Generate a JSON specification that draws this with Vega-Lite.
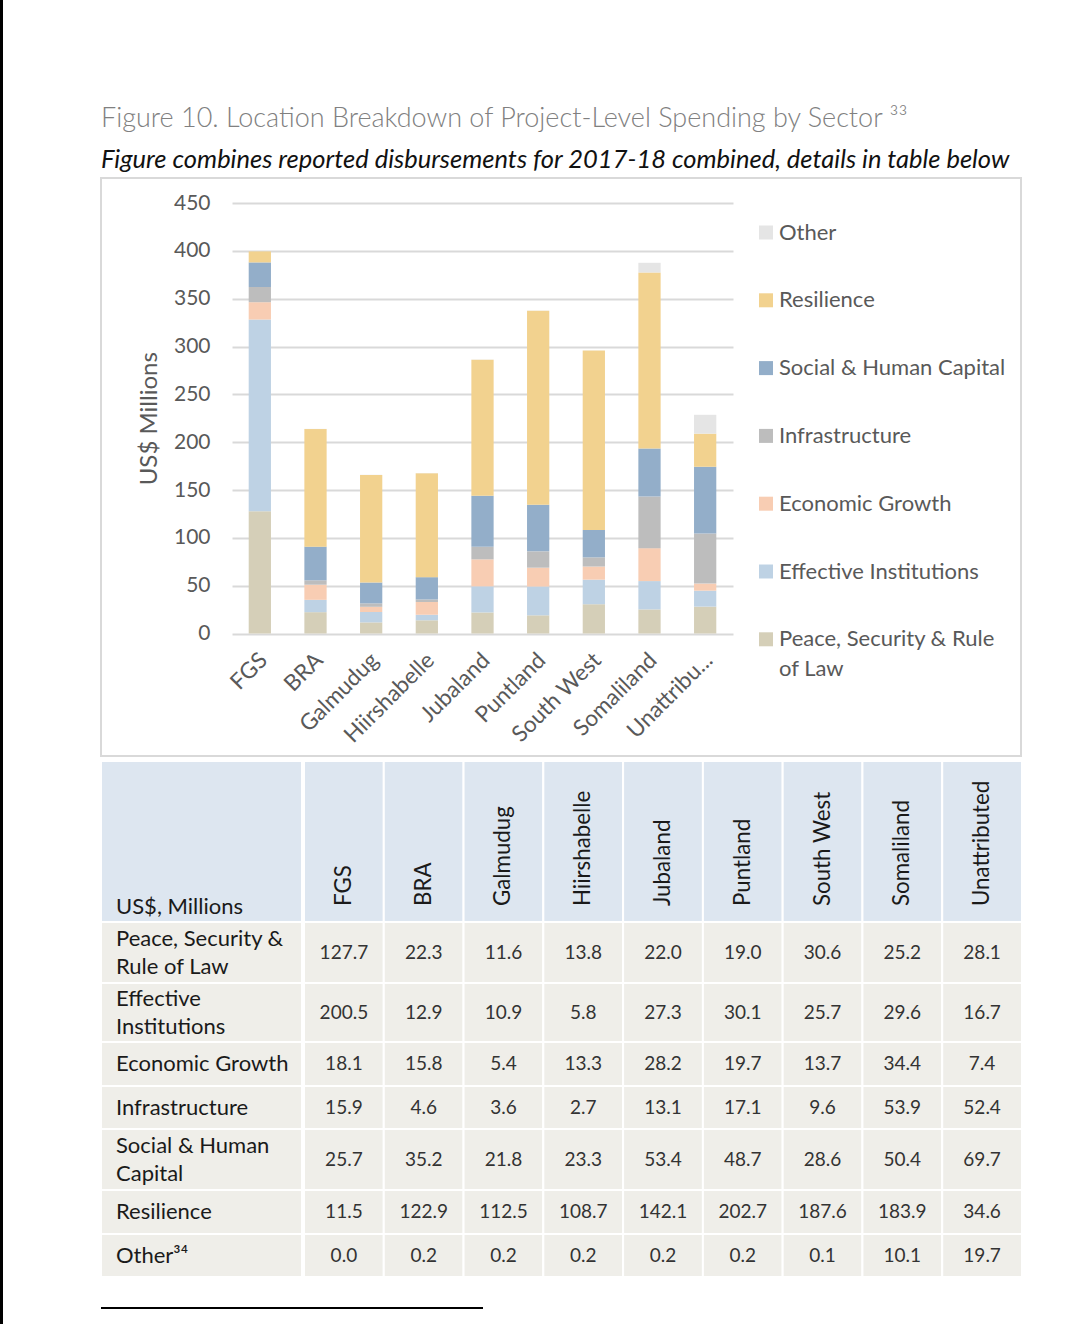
{
  "$schema": "https://vega.github.io/schema/vega-lite/v6.json",
  "padding": 0,
  "background": "white",
  "config": {"view": {"stroke": null}, "font": "Lato"},
  "datasets": {
    "d": [
      {"loc": "FGS", "sector": "Peace, Security & Rule of Law", "v": 127.7},
      {"loc": "BRA", "sector": "Peace, Security & Rule of Law", "v": 22.3},
      {"loc": "Galmudug", "sector": "Peace, Security & Rule of Law", "v": 11.6},
      {"loc": "Hiirshabelle", "sector": "Peace, Security & Rule of Law", "v": 13.8},
      {"loc": "Jubaland", "sector": "Peace, Security & Rule of Law", "v": 22.0},
      {"loc": "Puntland", "sector": "Peace, Security & Rule of Law", "v": 19.0},
      {"loc": "South West", "sector": "Peace, Security & Rule of Law", "v": 30.6},
      {"loc": "Somaliland", "sector": "Peace, Security & Rule of Law", "v": 25.2},
      {"loc": "Unattributed", "sector": "Peace, Security & Rule of Law", "v": 28.1},
      {"loc": "FGS", "sector": "Effective Institutions", "v": 200.5},
      {"loc": "BRA", "sector": "Effective Institutions", "v": 12.9},
      {"loc": "Galmudug", "sector": "Effective Institutions", "v": 10.9},
      {"loc": "Hiirshabelle", "sector": "Effective Institutions", "v": 5.8},
      {"loc": "Jubaland", "sector": "Effective Institutions", "v": 27.3},
      {"loc": "Puntland", "sector": "Effective Institutions", "v": 30.1},
      {"loc": "South West", "sector": "Effective Institutions", "v": 25.7},
      {"loc": "Somaliland", "sector": "Effective Institutions", "v": 29.6},
      {"loc": "Unattributed", "sector": "Effective Institutions", "v": 16.7},
      {"loc": "FGS", "sector": "Economic Growth", "v": 18.1},
      {"loc": "BRA", "sector": "Economic Growth", "v": 15.8},
      {"loc": "Galmudug", "sector": "Economic Growth", "v": 5.4},
      {"loc": "Hiirshabelle", "sector": "Economic Growth", "v": 13.3},
      {"loc": "Jubaland", "sector": "Economic Growth", "v": 28.2},
      {"loc": "Puntland", "sector": "Economic Growth", "v": 19.7},
      {"loc": "South West", "sector": "Economic Growth", "v": 13.7},
      {"loc": "Somaliland", "sector": "Economic Growth", "v": 34.4},
      {"loc": "Unattributed", "sector": "Economic Growth", "v": 7.4},
      {"loc": "FGS", "sector": "Infrastructure", "v": 15.9},
      {"loc": "BRA", "sector": "Infrastructure", "v": 4.6},
      {"loc": "Galmudug", "sector": "Infrastructure", "v": 3.6},
      {"loc": "Hiirshabelle", "sector": "Infrastructure", "v": 2.7},
      {"loc": "Jubaland", "sector": "Infrastructure", "v": 13.1},
      {"loc": "Puntland", "sector": "Infrastructure", "v": 17.1},
      {"loc": "South West", "sector": "Infrastructure", "v": 9.6},
      {"loc": "Somaliland", "sector": "Infrastructure", "v": 53.9},
      {"loc": "Unattributed", "sector": "Infrastructure", "v": 52.4},
      {"loc": "FGS", "sector": "Social & Human Capital", "v": 25.7},
      {"loc": "BRA", "sector": "Social & Human Capital", "v": 35.2},
      {"loc": "Galmudug", "sector": "Social & Human Capital", "v": 21.8},
      {"loc": "Hiirshabelle", "sector": "Social & Human Capital", "v": 23.3},
      {"loc": "Jubaland", "sector": "Social & Human Capital", "v": 53.4},
      {"loc": "Puntland", "sector": "Social & Human Capital", "v": 48.7},
      {"loc": "South West", "sector": "Social & Human Capital", "v": 28.6},
      {"loc": "Somaliland", "sector": "Social & Human Capital", "v": 50.4},
      {"loc": "Unattributed", "sector": "Social & Human Capital", "v": 69.7},
      {"loc": "FGS", "sector": "Resilience", "v": 11.5},
      {"loc": "BRA", "sector": "Resilience", "v": 122.9},
      {"loc": "Galmudug", "sector": "Resilience", "v": 112.5},
      {"loc": "Hiirshabelle", "sector": "Resilience", "v": 108.7},
      {"loc": "Jubaland", "sector": "Resilience", "v": 142.1},
      {"loc": "Puntland", "sector": "Resilience", "v": 202.7},
      {"loc": "South West", "sector": "Resilience", "v": 187.6},
      {"loc": "Somaliland", "sector": "Resilience", "v": 183.9},
      {"loc": "Unattributed", "sector": "Resilience", "v": 34.6},
      {"loc": "FGS", "sector": "Other", "v": 0.0},
      {"loc": "BRA", "sector": "Other", "v": 0.2},
      {"loc": "Galmudug", "sector": "Other", "v": 0.2},
      {"loc": "Hiirshabelle", "sector": "Other", "v": 0.2},
      {"loc": "Jubaland", "sector": "Other", "v": 0.2},
      {"loc": "Puntland", "sector": "Other", "v": 0.2},
      {"loc": "South West", "sector": "Other", "v": 0.1},
      {"loc": "Somaliland", "sector": "Other", "v": 10.1},
      {"loc": "Unattributed", "sector": "Other", "v": 19.7}
    ],
    "sectors": [
      {"sector": "Peace, Security & Rule of Law", "label": "Peace, Security &\nRule of Law", "row": 1},
      {"sector": "Effective Institutions", "label": "Effective\nInstitutions", "row": 2},
      {"sector": "Economic Growth", "label": "Economic Growth", "row": 3},
      {"sector": "Infrastructure", "label": "Infrastructure", "row": 4},
      {"sector": "Social & Human Capital", "label": "Social & Human\nCapital", "row": 5},
      {"sector": "Resilience", "label": "Resilience", "row": 6},
      {"sector": "Other", "label": "Other³⁴", "row": 7}
    ]
  },
  "hconcat": [
    {
      "width": 3, "height": 1324,
      "data": {"values": [{}]},
      "mark": {"type": "rect", "color": "#000000"},
      "encoding": {}
    },
    {
      "vconcat": [
        {
          "vconcat": [
            {
              "width": 10, "height": 100,
              "data": {"values": [{}]},
              "mark": {"type": "rect", "opacity": 0},
              "encoding": {}
            },
            {
              "width": 920, "height": 578,
              "view": {"stroke": "#d9d9d9", "strokeWidth": 2},
              "title": {
                "text": "Figure 10. Location Breakdown of Project-Level Spending by Sector ³³",
                "subtitle": "Figure combines reported disbursements for 2017-18 combined, details in table below",
                "anchor": "start", "frame": "group",
                "font": "Lato", "fontSize": 27, "fontWeight": 300, "color": "#808080",
                "subtitleFont": "Lato", "subtitleFontSize": 25.5, "subtitleFontStyle": "italic", "subtitleFontWeight": "normal", "subtitleColor": "#111111",
                "subtitlePadding": 15, "offset": 4
              },
              "data": {"name": "d"},
              "transform": [{"lookup": "sector", "from": {"data": {"name": "sectors"}, "key": "sector", "fields": ["row"]}}],
              "mark": {"type": "bar"},
              "encoding": {
                "x": {
                  "field": "loc", "type": "nominal",
                  "sort": ["FGS", "BRA", "Galmudug", "Hiirshabelle", "Jubaland", "Puntland", "South West", "Somaliland", "Unattributed"],
                  "scale": {"range": [131, 632], "paddingInner": 0.6, "paddingOuter": 0.3},
                  "axis": {
                    "orient": "bottom", "offset": -122.5, "title": null,
                    "domain": false, "ticks": false, "tickSize": 0, "grid": false,
                    "labelAngle": -45, "labelPadding": 15, "labelOffset": -4, "labelFontSize": 22.5, "labelFont": "Lato",
                    "labelColor": "#595959", "labelOverlap": false, "labelLimit": 300,
                    "labelExpr": "datum.label == 'Unattributed' ? 'Unattribu...' : datum.label"
                  }
                },
                "y": {
                  "field": "v", "type": "quantitative", "stack": "zero",
                  "scale": {"domain": [0, 450], "range": [455.5, 25], "nice": false},
                  "axis": {
                    "orient": "left", "offset": -131, "values": [0, 50, 100, 150, 200, 250, 300, 350, 400, 450],
                    "grid": true, "gridColor": "#d9d9d9", "gridWidth": 2,
                    "domain": false, "ticks": false, "tickSize": 0, "labelPadding": 22,
                    "labelFontSize": 21, "labelFont": "Lato", "labelColor": "#595959",
                    "title": "US$ Millions", "titleFontSize": 24, "titleFont": "Lato", "titleFontWeight": "normal",
                    "titleColor": "#595959", "titlePadding": 12
                  }
                },
                "order": {"field": "row", "type": "quantitative", "sort": "ascending"},
                "color": {
                  "field": "sector", "type": "nominal",
                  "scale": {
                    "domain": ["Peace, Security & Rule of Law", "Effective Institutions", "Economic Growth", "Infrastructure", "Social & Human Capital", "Resilience", "Other"],
                    "range": ["#d5cfb8", "#bed2e4", "#f8cdb3", "#bdbdbd", "#93aec9", "#f2d28f", "#e5e5e5"]
                  },
                  "legend": {
                    "orient": "none", "legendX": 755, "legendY": 221.5, "title": null,
                    "values": ["Other", "Resilience", "Social & Human Capital", "Infrastructure", "Economic Growth", "Effective Institutions", "Peace, Security & Rule of Law"],
                    "symbolType": "square", "symbolSize": 196, "symbolStrokeWidth": 0, "symbolOpacity": 1,
                    "labelFontSize": 22, "labelFont": "Lato", "labelColor": "#595959", "labelLimit": 300,
                    "labelOffset": 2, "rowPadding": 45.8,
                    "labelExpr": "datum.label == 'Peace, Security & Rule of Law' ? ['Peace, Security & Rule', 'of Law'] : datum.label",
                    "encode": {"labels": {"update": {"lineHeight": {"value": 30}}}}
                  }
                }
              }
            },
            {
              "hconcat": [
                {
                  "width": 201, "height": 516,
                  "layer": [
                    {
                      "data": {"name": "sectors"},
                      "transform": [{"aggregate": [{"op": "count", "as": "n"}]}],
                      "mark": {"type": "rect", "fill": "#dde6f0", "stroke": "#ffffff", "strokeWidth": 2},
                      "encoding": {
                        "y": {"datum": -0.5, "type": "quantitative", "scale": {"type": "linear", "domain": [-0.5, 0.5, 1.5, 2.5, 3.5, 4.5, 5.5, 6.5, 7.5], "range": [0, 161, 222, 281, 325, 368, 429, 473, 516], "nice": false, "zero": false}, "axis": null},
                        "y2": {"datum": 0.5}
                      }
                    },
                    {
                      "data": {"name": "sectors"},
                      "transform": [{"aggregate": [{"op": "count", "as": "n"}]}],
                      "mark": {"type": "rect", "fill": "#efeee9", "stroke": "#ffffff", "strokeWidth": 2},
                      "encoding": {
                        "y": {"datum": 0.5, "type": "quantitative", "scale": {"type": "linear", "domain": [-0.5, 0.5, 1.5, 2.5, 3.5, 4.5, 5.5, 6.5, 7.5], "range": [0, 161, 222, 281, 325, 368, 429, 473, 516], "nice": false, "zero": false}, "axis": null},
                        "y2": {"datum": 7.5}
                      }
                    },
                    {
                      "data": {"name": "sectors"},
                      "mark": {"type": "rule", "color": "#ffffff", "strokeWidth": 2},
                      "encoding": {
                        "y": {"field": "row", "type": "quantitative", "scale": {"type": "linear", "domain": [1, 2, 3, 4, 5, 6, 7], "range": [222, 281, 325, 368, 429, 473, 516], "nice": false, "zero": false}, "axis": null}
                      }
                    },
                    {
                      "data": {"name": "sectors"},
                      "transform": [{"filter": "indexof(datum.label, '\\n') < 0"}],
                      "mark": {"type": "text", "align": "left", "baseline": "middle", "dx": -85.5, "fontSize": 22, "font": "Lato", "color": "#1a1a1a"},
                      "encoding": {
                        "y": {"field": "row", "type": "quantitative", "scale": {"type": "linear", "domain": [-0.5, 0.5, 1.5, 2.5, 3.5, 4.5, 5.5, 6.5, 7.5], "range": [0, 161, 222, 281, 325, 368, 429, 473, 516], "nice": false, "zero": false}, "axis": null},
                        "text": {"field": "label"}
                      }
                    },
                    {
                      "data": {"name": "sectors"},
                      "transform": [{"filter": "indexof(datum.label, '\\n') >= 0"}],
                      "mark": {"type": "text", "align": "left", "baseline": "middle", "dx": -85.5, "dy": -14, "fontSize": 22, "font": "Lato", "color": "#1a1a1a", "lineBreak": "\n", "lineHeight": 28},
                      "encoding": {
                        "y": {"field": "row", "type": "quantitative", "scale": {"type": "linear", "domain": [-0.5, 0.5, 1.5, 2.5, 3.5, 4.5, 5.5, 6.5, 7.5], "range": [0, 161, 222, 281, 325, 368, 429, 473, 516], "nice": false, "zero": false}, "axis": null},
                        "text": {"field": "label"}
                      }
                    },
                    {
                      "data": {"values": [{"t": "US$, Millions"}]},
                      "mark": {"type": "text", "align": "left", "baseline": "alphabetic", "dx": -85.5, "dy": -8, "fontSize": 22, "font": "Lato", "color": "#1a1a1a"},
                      "encoding": {
                        "y": {"datum": 0.5, "type": "quantitative", "scale": {"type": "linear", "domain": [-0.5, 0.5, 1.5, 2.5, 3.5, 4.5, 5.5, 6.5, 7.5], "range": [0, 161, 222, 281, 325, 368, 429, 473, 516], "nice": false, "zero": false}, "axis": null},
                        "text": {"field": "t"}
                      }
                    }
                  ],
                  "resolve": {"scale": {"y": "independent"}}
                },
                {
                  "width": 718, "height": 516,
                  "layer": [
                    {
                      "data": {"name": "d"},
                      "transform": [{"aggregate": [{"op": "count", "as": "n"}], "groupby": ["loc"]}],
                      "mark": {"type": "rect", "fill": "#dde6f0", "stroke": "#ffffff", "strokeWidth": 2},
                      "encoding": {
                        "x": {"field": "loc", "type": "nominal", "sort": ["FGS", "BRA", "Galmudug", "Hiirshabelle", "Jubaland", "Puntland", "South West", "Somaliland", "Unattributed"], "scale": {"paddingInner": 0, "paddingOuter": 0}, "axis": null},
                        "y": {"datum": -0.5, "type": "quantitative", "scale": {"type": "linear", "domain": [-0.5, 0.5, 1.5, 2.5, 3.5, 4.5, 5.5, 6.5, 7.5], "range": [0, 161, 222, 281, 325, 368, 429, 473, 516], "nice": false, "zero": false}, "axis": null},
                        "y2": {"datum": 0.5}
                      }
                    },
                    {
                      "data": {"name": "d"},
                      "transform": [{"aggregate": [{"op": "count", "as": "n"}], "groupby": ["loc"]}],
                      "mark": {"type": "rect", "fill": "#efeee9", "stroke": "#ffffff", "strokeWidth": 2},
                      "encoding": {
                        "x": {"field": "loc", "type": "nominal", "sort": ["FGS", "BRA", "Galmudug", "Hiirshabelle", "Jubaland", "Puntland", "South West", "Somaliland", "Unattributed"], "axis": null},
                        "y": {"datum": 0.5, "type": "quantitative", "scale": {"type": "linear", "domain": [-0.5, 0.5, 1.5, 2.5, 3.5, 4.5, 5.5, 6.5, 7.5], "range": [0, 161, 222, 281, 325, 368, 429, 473, 516], "nice": false, "zero": false}, "axis": null},
                        "y2": {"datum": 7.5}
                      }
                    },
                    {
                      "data": {"name": "sectors"},
                      "mark": {"type": "rule", "color": "#ffffff", "strokeWidth": 2},
                      "encoding": {
                        "y": {"field": "row", "type": "quantitative", "scale": {"type": "linear", "domain": [1, 2, 3, 4, 5, 6, 7], "range": [222, 281, 325, 368, 429, 473, 516], "nice": false, "zero": false}, "axis": null}
                      }
                    },
                    {
                      "data": {"name": "d"},
                      "transform": [{"aggregate": [{"op": "count", "as": "n"}], "groupby": ["loc"]}],
                      "mark": {"type": "text", "angle": 270, "align": "left", "baseline": "middle", "dx": 16, "fontSize": 22.3, "font": "Lato", "color": "#1a1a1a"},
                      "encoding": {
                        "x": {"field": "loc", "type": "nominal", "sort": ["FGS", "BRA", "Galmudug", "Hiirshabelle", "Jubaland", "Puntland", "South West", "Somaliland", "Unattributed"], "axis": null},
                        "y": {"datum": 0.5, "type": "quantitative", "scale": {"type": "linear", "domain": [-0.5, 0.5, 1.5, 2.5, 3.5, 4.5, 5.5, 6.5, 7.5], "range": [0, 161, 222, 281, 325, 368, 429, 473, 516], "nice": false, "zero": false}, "axis": null},
                        "text": {"field": "loc"}
                      }
                    },
                    {
                      "data": {"name": "d"},
                      "transform": [{"lookup": "sector", "from": {"data": {"name": "sectors"}, "key": "sector", "fields": ["row"]}}],
                      "mark": {"type": "text", "align": "center", "baseline": "middle", "fontSize": 19, "font": "Lato", "color": "#333333"},
                      "encoding": {
                        "x": {"field": "loc", "type": "nominal", "sort": ["FGS", "BRA", "Galmudug", "Hiirshabelle", "Jubaland", "Puntland", "South West", "Somaliland", "Unattributed"], "axis": null},
                        "y": {"field": "row", "type": "quantitative", "scale": {"type": "linear", "domain": [-0.5, 0.5, 1.5, 2.5, 3.5, 4.5, 5.5, 6.5, 7.5], "range": [0, 161, 222, 281, 325, 368, 429, 473, 516], "nice": false, "zero": false}, "axis": null},
                        "text": {"field": "v", "type": "quantitative", "format": ".1f"}
                      }
                    }
                  ],
                  "resolve": {"scale": {"y": "independent"}}
                }
              ],
              "spacing": 0
            }
          ],
          "spacing": 3
        },
        {
          "width": 382, "height": 2,
          "data": {"values": [{}]},
          "mark": {"type": "rect", "color": "#000000"},
          "encoding": {}
        }
      ],
      "spacing": 29
    }
  ],
  "spacing": 97
}
